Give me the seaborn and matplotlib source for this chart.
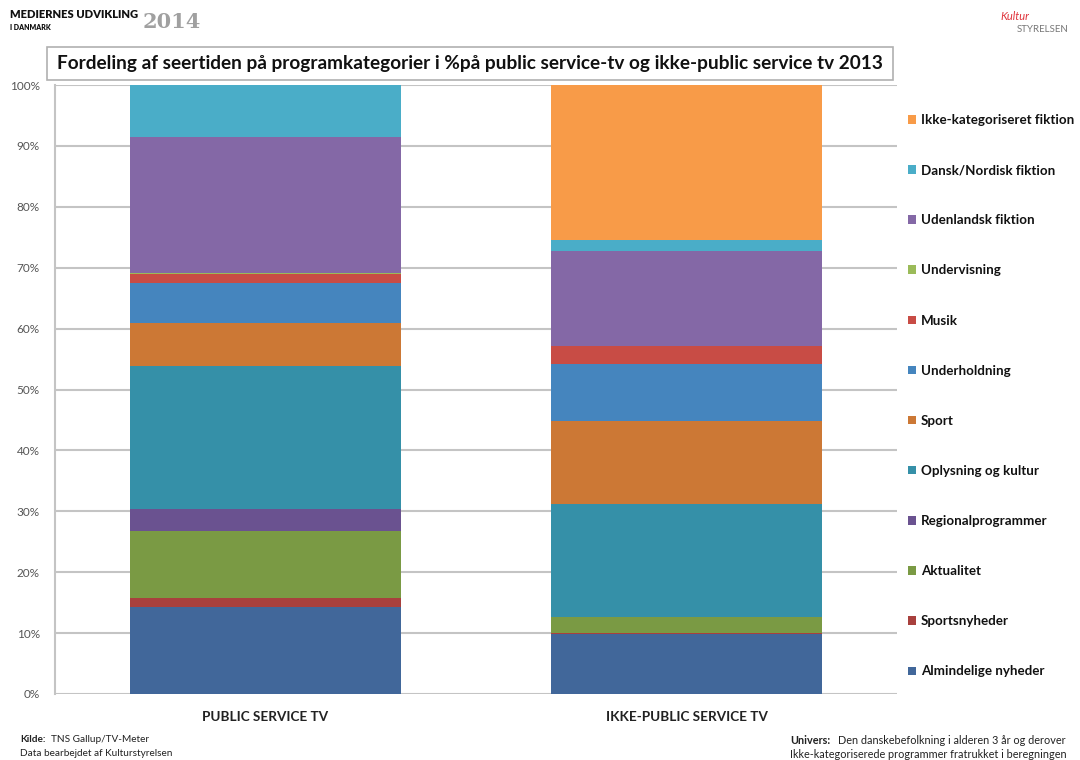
import matplotlib
matplotlib.use("Agg")
import matplotlib.pyplot as plt
import seaborn as sns
import pandas as pd
from matplotlib.patches import Rectangle, Patch

groups = ["PUBLIC SERVICE TV", "IKKE-PUBLIC SERVICE TV"]
categories = ["Almindelige nyheder", "Sportsnyheder", "Aktualitet", "Regionalprogrammer",
              "Oplysning og kultur", "Sport", "Underholdning", "Musik", "Undervisning",
              "Udenlandsk fiktion", "Dansk/Nordisk fiktion", "Ikke-kategoriseret fiktion"]
public_tv = [14.3, 1.5, 11.0, 3.6, 23.5, 7.0, 6.6, 1.5, 0.2, 22.2, 8.6, 0.0]
ikke_public_tv = [9.9, 0.1, 2.7, 0.0, 18.5, 13.6, 9.4, 2.9, 0.0, 15.6, 1.8, 25.5]
colors = ["#41679A", "#A8403D", "#7A9A44", "#6A5290", "#3590A8", "#CC7835",
          "#4585BE", "#C84C45", "#9BBB59", "#8468A6", "#4AADC8", "#F89B48"]
yticks = [0, 10, 20, 30, 40, 50, 60, 70, 80, 90, 100]

sns.set_theme(style="white")
plt.rcParams["font.family"] = ["Lato", "DejaVu Sans"]

fig = plt.figure(figsize=(10.8, 7.6), dpi=100)
ax = fig.add_axes([55/1080, 1-694/760, (897-55)/1080, (694-85)/760])

bottom = [0.0, 0.0]
for i, cat in enumerate(categories):
    vals = [public_tv[i], ikke_public_tv[i]]
    d = pd.DataFrame({"group": groups, "value": vals})
    sns.barplot(data=d, x="group", y="value", order=groups, color=colors[i],
                bottom=bottom, width=0.645, ax=ax, errorbar=None,
                saturation=1, linewidth=0, zorder=3)
    bottom = [bottom[0] + vals[0], bottom[1] + vals[1]]

ax.set_xlim(-0.5, 1.5)
ax.set_ylim(0, 100)
ax.set_yticks(yticks)
ax.set_yticklabels([f"{t}%" for t in yticks], fontsize=8.5, color="#555555")
ax.tick_params(axis="y", length=0, pad=11)
ax.tick_params(axis="x", length=0, pad=12)
ax.set_xticks([0, 1])
ax.set_xticklabels(groups, fontsize=9.7, fontweight="bold", color="#222222")
ax.set_xlabel("")
ax.set_ylabel("")
ax.yaxis.grid(True, color="#C4C4C4", linewidth=1.5, zorder=0)
ax.set_axisbelow(True)
for s in ["top", "right", "bottom"]:
    ax.spines[s].set_visible(False)
ax.spines["left"].set_color("#C4C4C4")
ax.spines["left"].set_linewidth(1.5)

# legend (top to bottom, reversed order)
handles = [Patch(facecolor=colors[i], edgecolor="none", label=categories[i])
           for i in range(len(categories))][::-1]
leg = fig.legend(handles=handles, loc="upper left", bbox_to_anchor=(908/1080, 1-114/760),
                 frameon=False, prop={"family": ["Lato", "DejaVu Sans"], "weight": "bold", "size": 9.6},
                 handlelength=0.6, handleheight=0.6, handletextpad=0.35, labelspacing=2.86,
                 borderaxespad=0, borderpad=0)
for t in leg.get_texts():
    t.set_color("#111111")

# title box
fig.patches.append(Rectangle((47/1080, 1-80/760), (893-47)/1080, 33/760,
                             transform=fig.transFigure, facecolor="white",
                             edgecolor="#B0B0B0", linewidth=1.2))
fig.text(470/1080, 1-64/760,
         "Fordeling af seertiden på programkategorier i %på public service-tv og ikke-public service tv 2013",
         ha="center", va="center", fontsize=13.7, fontweight="bold", color="#111111")

# header
fig.text(10/1080, 1-15/760, "MEDIERNES UDVIKLING", fontsize=8, fontweight="heavy",
         color="#111111", va="center")
fig.text(10/1080, 1-28/760, "I DANMARK", fontsize=5, fontweight="heavy",
         color="#111111", va="center")
fig.text(143/1080, 1-22/760, "2014", fontsize=15, color="#A0A0A0", va="center",
         family=["DejaVu Serif"], fontweight="bold")
fig.text(1015/1080, 1-17/760, "Kultur", fontsize=8, color="#E0343C", va="center",
         ha="center", style="italic")
fig.text(1043/1080, 1-29/760, "STYRELSEN", fontsize=7, color="#777777", va="center",
         ha="center")

# footer
fig.text(20/1080, 1-740/760, "Kilde:", fontsize=7.2, fontweight="bold",
         color="#222222", va="center")
fig.text(51/1080, 1-740/760, "TNS Gallup/TV-Meter", fontsize=7.2,
         color="#222222", va="center")
fig.text(20/1080, 1-754/760, "Data bearbejdet af Kulturstyrelsen", fontsize=7.2,
         color="#222222", va="center")
fig.text(790/1080, 1-740/760, "Univers:", fontsize=7.8, fontweight="bold",
         color="#222222", va="center")
fig.text(838/1080, 1-740/760, "Den danskebefolkning i alderen 3 år og derover",
         fontsize=7.8, color="#222222", va="center")
fig.text(790/1080, 1-754/760, "Ikke-kategoriserede programmer fratrukket i beregningen",
         fontsize=7.8, color="#222222", va="center")

fig.savefig("out.png", dpi=100, facecolor="white")
